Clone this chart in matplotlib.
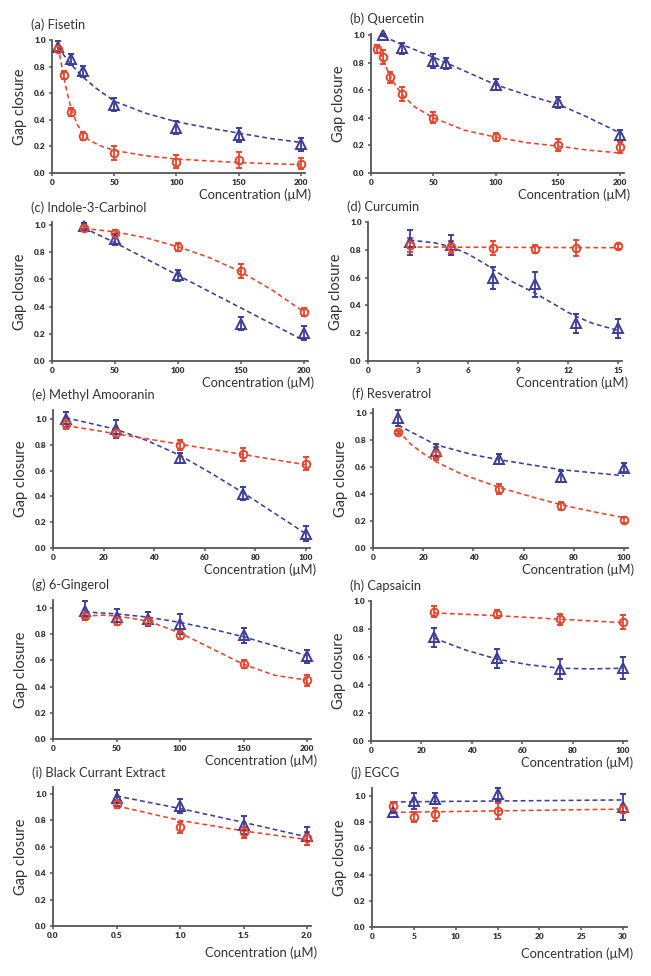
import matplotlib.pyplot as plt

plt.rcParams['font.family'] = ['Lato', 'DejaVu Sans']

BLUE = '#3d3d9c'
RED = '#e8452c'
GREY = '#555555'

# (a) Fisetin
fis_bx = [5, 15, 25, 50, 100, 150, 200]
fis_by = [0.95, 0.855, 0.765, 0.515, 0.34, 0.285, 0.215]
fis_be = [0.04, 0.04, 0.04, 0.05, 0.05, 0.05, 0.05]
fis_rx = [5, 10, 15, 25, 50, 100, 150, 200]
fis_ry = [0.935, 0.735, 0.46, 0.275, 0.15, 0.085, 0.095, 0.07]
fis_re = [0.02, 0.03, 0.03, 0.03, 0.05, 0.05, 0.06, 0.04]
fis_fit_bx = [5, 10, 15, 25, 35, 50, 75, 100, 125, 150, 175, 200]
fis_fit_by = [0.95, 0.88, 0.82, 0.72, 0.64, 0.54, 0.45, 0.385, 0.34, 0.30, 0.26, 0.23]
fis_fit_rx = [5, 7.5, 10, 12.5, 15, 20, 25, 30, 40, 50, 75, 100, 150, 200]
fis_fit_ry = [0.95, 0.82, 0.70, 0.59, 0.50, 0.37, 0.29, 0.245, 0.20, 0.17, 0.13, 0.105, 0.078, 0.063]

# (b) Quercetin
que_bx = [10, 25, 50, 60, 100, 150, 200]
que_by = [1.0, 0.903, 0.814, 0.795, 0.638, 0.512, 0.275]
que_be = [0.01, 0.04, 0.05, 0.04, 0.04, 0.04, 0.04]
que_rx = [5, 10, 15, 25, 50, 100, 150, 200]
que_ry = [0.896, 0.843, 0.693, 0.57, 0.40, 0.263, 0.203, 0.186]
que_re = [0.03, 0.05, 0.04, 0.05, 0.04, 0.03, 0.04, 0.04]
que_fit_bx = [10, 25, 50, 75, 100, 125, 150, 175, 200]
que_fit_by = [0.99, 0.93, 0.84, 0.74, 0.64, 0.565, 0.50, 0.40, 0.29]
que_fit_rx = [5, 10, 15, 20, 25, 35, 50, 75, 100, 125, 150, 175, 200]
que_fit_ry = [0.93, 0.81, 0.71, 0.63, 0.57, 0.48, 0.40, 0.31, 0.26, 0.22, 0.195, 0.165, 0.145]

# (c) Indole-3-Carbinol
ind_bx = [25, 50, 100, 150, 200]
ind_by = [0.993, 0.894, 0.631, 0.275, 0.206]
ind_be = [0.02, 0.04, 0.04, 0.05, 0.05]
ind_rx = [25, 50, 100, 150, 200]
ind_ry = [0.975, 0.944, 0.84, 0.661, 0.361]
ind_re = [0.02, 0.02, 0.03, 0.05, 0.03]
ind_fit_bx = [25, 50, 100, 150, 200]
ind_fit_by = [0.98, 0.87, 0.63, 0.39, 0.15]
ind_fit_rx = [25, 50, 75, 100, 125, 150, 175, 200]
ind_fit_ry = [0.975, 0.95, 0.905, 0.84, 0.76, 0.655, 0.52, 0.36]

# (d) Curcumin
cur_bx = [2.5, 5, 7.5, 10, 12.5, 15]
cur_by = [0.853, 0.836, 0.595, 0.552, 0.27, 0.234]
cur_be = [0.09, 0.07, 0.08, 0.09, 0.07, 0.07]
cur_rx = [2.5, 5, 7.5, 10, 12.5, 15]
cur_ry = [0.836, 0.82, 0.812, 0.805, 0.812, 0.824]
cur_re = [0.05, 0.04, 0.05, 0.03, 0.06, 0.02]
cur_fit_bx = [2.5, 4, 5, 6, 7, 7.5, 8.5, 10, 11, 12, 12.5, 13.5, 15]
cur_fit_by = [0.87, 0.85, 0.82, 0.77, 0.70, 0.66, 0.58, 0.49, 0.42, 0.35, 0.32, 0.27, 0.22]
cur_fit_rx = [2.5, 15]
cur_fit_ry = [0.82, 0.815]

# (e) Methyl Amooranin
mam_bx = [5, 25, 50, 75, 100]
mam_by = [0.997, 0.92, 0.70, 0.422, 0.111]
mam_be = [0.06, 0.07, 0.04, 0.05, 0.06]
mam_rx = [5, 25, 50, 75, 100]
mam_ry = [0.961, 0.894, 0.798, 0.728, 0.655]
mam_re = [0.04, 0.03, 0.04, 0.05, 0.05]
mam_fit_bx = [5, 25, 37.5, 50, 62.5, 75, 87.5, 100]
mam_fit_by = [1.01, 0.92, 0.83, 0.72, 0.58, 0.43, 0.27, 0.11]
mam_fit_rx = [5, 25, 50, 75, 100]
mam_fit_ry = [0.95, 0.885, 0.805, 0.725, 0.645]

# (f) Resveratrol
res_bx = [10, 25, 50, 75, 100]
res_by = [0.963, 0.72, 0.66, 0.529, 0.596]
res_be = [0.06, 0.05, 0.04, 0.04, 0.03]
res_rx = [10, 25, 50, 75, 100]
res_ry = [0.856, 0.70, 0.437, 0.31, 0.206]
res_re = [0.01, 0.05, 0.04, 0.03, 0.02]
res_fit_bx = [10, 25, 40, 50, 60, 75, 100]
res_fit_by = [0.91, 0.765, 0.69, 0.655, 0.625, 0.58, 0.535]
res_fit_rx = [10, 15, 20, 25, 35, 50, 65, 75, 90, 100]
res_fit_ry = [0.87, 0.77, 0.70, 0.64, 0.55, 0.45, 0.37, 0.32, 0.26, 0.225]

# (g) 6-Gingerol
gin_bx = [25, 50, 75, 100, 150, 200]
gin_by = [0.98, 0.929, 0.916, 0.878, 0.791, 0.631]
gin_be = [0.07, 0.06, 0.05, 0.08, 0.06, 0.05]
gin_rx = [25, 50, 75, 100, 150, 200]
gin_ry = [0.94, 0.903, 0.898, 0.796, 0.573, 0.448]
gin_re = [0.02, 0.03, 0.02, 0.03, 0.03, 0.04]
gin_fit_bx = [25, 50, 75, 100, 125, 150, 175, 200]
gin_fit_by = [0.97, 0.955, 0.93, 0.89, 0.84, 0.78, 0.71, 0.635]
gin_fit_rx = [25, 40, 50, 75, 100, 125, 150, 175, 200]
gin_fit_ry = [0.94, 0.945, 0.94, 0.90, 0.81, 0.69, 0.57, 0.485, 0.45]

# (h) Capsaicin
cap_bx = [25, 50, 75, 100]
cap_by = [0.74, 0.59, 0.513, 0.523]
cap_be = [0.07, 0.07, 0.07, 0.08]
cap_rx = [25, 50, 75, 100]
cap_ry = [0.924, 0.907, 0.869, 0.852]
cap_re = [0.04, 0.03, 0.04, 0.05]
cap_fit_bx = [25, 37.5, 50, 62.5, 75, 87.5, 100]
cap_fit_by = [0.735, 0.65, 0.585, 0.545, 0.52, 0.515, 0.52]
cap_fit_rx = [25, 50, 75, 100]
cap_fit_ry = [0.915, 0.895, 0.87, 0.845]

# (i) Black Currant Extract
bce_bx = [0.5, 1.0, 1.5, 2.0]
bce_by = [0.967, 0.909, 0.765, 0.681]
bce_be = [0.06, 0.05, 0.07, 0.07]
bce_rx = [0.5, 1.0, 1.5, 2.0]
bce_ry = [0.922, 0.747, 0.709, 0.663]
bce_re = [0.03, 0.04, 0.04, 0.05]
bce_fit_bx = [0.5, 1.0, 1.5, 2.0]
bce_fit_by = [0.985, 0.89, 0.785, 0.675]
bce_fit_rx = [0.5, 1.0, 1.5, 2.0]
bce_fit_ry = [0.91, 0.80, 0.72, 0.655]

# (j) EGCG
egc_bx = [2.5, 5, 7.5, 15, 30]
egc_by = [0.878, 0.962, 0.98, 1.013, 0.916]
egc_be = [0.01, 0.06, 0.04, 0.05, 0.10]
egc_rx = [2.5, 5, 7.5, 15, 30]
egc_ry = [0.924, 0.84, 0.86, 0.886, 0.898]
egc_re = [0.03, 0.04, 0.05, 0.06, 0.03]
egc_fit_bx = [2.5, 30]
egc_fit_by = [0.955, 0.97]
egc_fit_rx = [2.5, 30]
egc_fit_ry = [0.875, 0.90]

titles = ['(a) Fisetin', '(b) Quercetin', '(c) Indole-3-Carbinol', '(d) Curcumin',
          '(e) Methyl Amooranin', '(f) Resveratrol', '(g) 6-Gingerol',
          '(h) Capsaicin', '(i) Black Currant Extract', '(j) EGCG']
xticks_all = [
    [0, 50, 100, 150, 200], [0, 50, 100, 150, 200], [0, 50, 100, 150, 200],
    [0, 3, 6, 9, 12, 15], [0, 20, 40, 60, 80, 100], [0, 20, 40, 60, 80, 100],
    [0, 50, 100, 150, 200], [0, 20, 40, 60, 80, 100],
    [0.0, 0.5, 1.0, 1.5, 2.0], [0, 5, 10, 15, 20, 25, 30],
]
yticks = [0.0, 0.2, 0.4, 0.6, 0.8, 1.0]

series = [
    (fis_bx, fis_by, fis_be, fis_rx, fis_ry, fis_re, fis_fit_bx, fis_fit_by, fis_fit_rx, fis_fit_ry),
    (que_bx, que_by, que_be, que_rx, que_ry, que_re, que_fit_bx, que_fit_by, que_fit_rx, que_fit_ry),
    (ind_bx, ind_by, ind_be, ind_rx, ind_ry, ind_re, ind_fit_bx, ind_fit_by, ind_fit_rx, ind_fit_ry),
    (cur_bx, cur_by, cur_be, cur_rx, cur_ry, cur_re, cur_fit_bx, cur_fit_by, cur_fit_rx, cur_fit_ry),
    (mam_bx, mam_by, mam_be, mam_rx, mam_ry, mam_re, mam_fit_bx, mam_fit_by, mam_fit_rx, mam_fit_ry),
    (res_bx, res_by, res_be, res_rx, res_ry, res_re, res_fit_bx, res_fit_by, res_fit_rx, res_fit_ry),
    (gin_bx, gin_by, gin_be, gin_rx, gin_ry, gin_re, gin_fit_bx, gin_fit_by, gin_fit_rx, gin_fit_ry),
    (cap_bx, cap_by, cap_be, cap_rx, cap_ry, cap_re, cap_fit_bx, cap_fit_by, cap_fit_rx, cap_fit_ry),
    (bce_bx, bce_by, bce_be, bce_rx, bce_ry, bce_re, bce_fit_bx, bce_fit_by, bce_fit_rx, bce_fit_ry),
    (egc_bx, egc_by, egc_be, egc_rx, egc_ry, egc_re, egc_fit_bx, egc_fit_by, egc_fit_rx, egc_fit_ry),
]

# pixel placement of each panel: x of 0, x of last tick, y of 0, y of 1.0, top of y range
layout = [
    (52, 301, 173, 40, 1.0), (371, 620, 173, 35, 1.01),
    (52, 304, 361, 225, 1.02), (368, 618, 361, 222, 1.0),
    (53, 306, 548, 419, 1.07), (373, 624, 548, 413, 1.03),
    (53, 307, 739, 608, 1.06), (371, 623, 741, 601, 1.0),
    (53, 307, 926, 794, 1.05), (372, 623, 927, 796, 1.06),
]

W, H = 651, 976
fig = plt.figure(figsize=(W / 100, H / 100), dpi=100)

for k in range(10):
    x0, x1, y0, y1, ytop = layout[k]
    xt = xticks_all[k]
    xmax = xt[-1]
    xright = xmax * 1.015
    right = x0 + (x1 - x0) * xright / xmax
    top = y0 - (y0 - y1) * ytop
    ax = fig.add_axes([x0 / W, 1 - y0 / H, (right - x0) / W, (y0 - top) / H])

    bx, by, be, rx, ry, re, fbx, fby, frx, fry = series[k]
    dash = (0, (3, 2))
    ax.plot(fbx, fby, color=BLUE, lw=1.15, ls=dash, zorder=2)
    ax.plot(frx, fry, color=RED, lw=1.15, ls=dash, zorder=2)
    ax.errorbar(bx, by, yerr=be, fmt='^', mfc='none', mec=BLUE, ms=6.5, mew=1.4,
                ecolor=BLUE, elinewidth=1.3, capsize=2, capthick=1.3,
                clip_on=False, zorder=3)
    ax.errorbar(rx, ry, yerr=re, fmt='o', mfc='none', mec=RED, ms=5.5, mew=1.4,
                ecolor=RED, elinewidth=1.3, capsize=2, capthick=1.3,
                clip_on=False, zorder=3)

    ax.set_xlim(0, xright)
    ax.set_ylim(0, ytop)
    if k == 8:
        xlabels = ['%.1f' % v for v in xt]
    else:
        xlabels = [str(v) for v in xt]
    ax.set_xticks(xt, labels=xlabels, fontweight='heavy')
    ax.set_yticks(yticks, labels=['%.1f' % v for v in yticks], fontweight='heavy')
    ax.tick_params(direction='out', length=2.5, width=1.1, colors=GREY,
                   labelcolor='#333333', labelsize=6, pad=2)
    for s in ['top', 'right']:
        ax.spines[s].set_visible(False)
    for s in ['left', 'bottom']:
        ax.spines[s].set_color(GREY)
        ax.spines[s].set_linewidth(1.3)
    ax.patch.set_alpha(0)

    fig.text((x0 - 21) / W, 1 - (top - 15) / H, titles[k], ha='left', va='center',
             fontsize=9.3, color='#333333')
    fig.text((x0 - 32) / W, 1 - ((y0 + top) / 2) / H, 'Gap closure', rotation=90,
             ha='center', va='center', fontsize=10.5, color='#333333')
    off = 27 if k >= 8 else 22
    fig.text((right + 6) / W, 1 - (y0 + off) / H, 'Concentration (\u03bcM)',
             ha='right', va='center', fontsize=9.4, color='#333333')

fig.savefig('out.png', dpi=100)
